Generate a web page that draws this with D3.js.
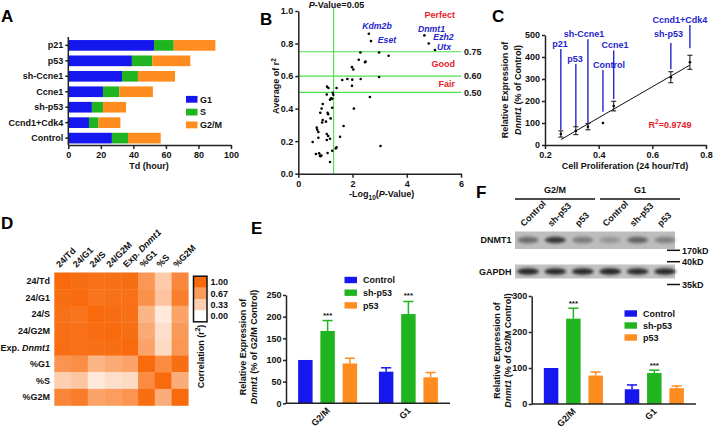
<!DOCTYPE html>
<html><head><meta charset="utf-8">
<script src="https://cdn.jsdelivr.net/npm/d3@7"></script>
<style>
body{margin:0;background:#fff;}
svg{display:block;font-family:"Liberation Sans",Arial,sans-serif;font-weight:bold;}
</style></head><body>
<svg id="chart" width="713" height="434"></svg>
<script>
// ================= DATA =================
// Panel A: doubling time split by phase
const cellLines = ["p21","p53","sh-Ccne1","Ccne1","sh-p53","Ccnd1+Cdk4","Control"];
const phaseNames = ["G1","S","G2/M"];
const phaseG1  = [52.7,39.1,33.0,21.3,14.5,12.7,26.8];
const phaseS   = [12.1,12.5,9.8,10.1,6.8,5.9,9.9];
const phaseG2M = [25.6,23.4,22.8,20.6,14.2,13.4,20.1];
const tickA = [0,20,40,60,80,100];

// Panel B: scatter of -log10(P) vs average r^2
const bNegLogP = [2.60,2.68,4.65,4.81,5.04,2.29,2.98,3.33,2.23,2.48,2.46,1.98,2.03,1.62,1.81,1.99,2.30,2.98,1.98,1.41,
  1.06,1.11,1.27,1.29,1.05,1.21,1.17,1.25,2.64,0.90,1.25,2.05,0.86,0.81,1.08,1.10,1.19,0.90,0.88,1.02,
  1.67,0.68,0.70,0.74,1.05,1.10,0.74,1.17,1.05,1.54,0.53,1.41,1.38,1.25,3.03,0.65,0.77,0.80,0.85,0.82,1.08,1.17];
const bMeanR2 = [0.86,0.815,0.85,0.80,0.76,0.745,0.745,0.725,0.70,0.69,0.685,0.655,0.64,0.576,0.582,0.578,0.582,0.594,0.54,0.527,
  0.535,0.527,0.498,0.485,0.487,0.463,0.455,0.46,0.471,0.428,0.405,0.40,0.40,0.375,0.375,0.365,0.34,0.33,0.315,0.32,
  0.293,0.283,0.27,0.256,0.244,0.232,0.221,0.215,0.207,0.227,0.195,0.162,0.155,0.141,0.17,0.121,0.125,0.11,0.112,0.108,0.127,0.072];
const bThresholds = [0.75,0.60,0.50];
const bPCut = 1.301;
const bFitClasses = ["Perfect","Good","Fair"];
const bGenes = ["Kdm2b","Eset","Dnmt1","Ezh2","Utx"];
const tickBX = [0,2,4,6];
const tickBY = [0,0.2,0.4,0.6,0.8,1.0];

// Panel C
const cLines = ["p21","p53","sh-Ccne1","Control","Ccne1","sh-p53","Ccnd1+Cdk4"];
const cProlif = [0.259,0.315,0.360,0.416,0.456,0.669,0.740];
const cExpr   = [50,65,83,100,177,308,376];
const cErr    = [14,18,14,0,22,25,32];
const cR2 = "0.9749";
const tickCX = [0.2,0.4,0.6,0.8];
const tickCY = [0,100,200,300,400,500];

// Panel D: correlation matrix
const dVars = ["24/Td","24/G1","24/S","24/G2M","Exp. Dnmt1","%G1","%S","%G2M"];
const dMatrix = [
  [1.00,0.97,0.95,0.96,0.97,0.70,0.35,0.80],
  [0.97,1.00,0.93,0.95,0.95,0.74,0.40,0.86],
  [0.95,0.93,1.00,0.98,0.96,0.50,0.15,0.62],
  [0.96,0.95,0.98,1.00,0.97,0.57,0.22,0.68],
  [0.97,0.95,0.96,0.97,1.00,0.62,0.25,0.70],
  [0.72,0.76,0.50,0.57,0.62,1.00,0.78,0.97],
  [0.33,0.38,0.15,0.22,0.25,0.78,1.00,0.55],
  [0.82,0.88,0.62,0.66,0.72,0.97,0.55,1.00]];
const dLegendTicks = [1.00,0.67,0.33,0.00];

// Panels E & F
const efPhases = ["G2/M","G1"];
const treatments = ["Control","sh-p53","p53"];
const eControl=[100,73], eShP53=[167,206], eP53=[92,60];
const eControlErr=[0,9], eShP53Err=[24,29], eP53Err=[12,11];
const eSig = ["***","***"];
const tickEY = [0,50,100,150,200,250];
const fControl=[100,41], fShP53=[237,86], fP53=[79,44];
const fControlErr=[0,12], fShP53Err=[29,8], fP53Err=[10,6];
const fSig = ["***","***"];
const tickFY = [0,100,200,300];
const blotLanes = ["Control","sh-p53","p53","Control","sh-p53","p53"];
const dnmt1Band = [0.55,0.92,0.45,0.28,0.6,0.42];
const gapdhBand = [0.95,0.9,0.9,0.95,0.88,0.9];
const blotMarkers = ["170kD","40kD","35kD"];

// ================= DRAWING =================
const FF = '"Liberation Sans", Arial, sans-serif';
const BLUE="#1616ee", GREEN="#20b420", ORANGE="#ff8c1e", LBLUE="#2525cc", RED="#e8202a", LGREEN="#4be04b";
const svg = d3.select("#chart");
svg.append("rect").attr("width",713).attr("height",434).attr("fill","#fff");

function styleAxis(g){
  g.attr("font-family",FF).attr("font-size",9).attr("font-weight","bold");
  g.select(".domain").attr("stroke","#222").attr("stroke-width",1.5);
  g.selectAll(".tick line").attr("stroke","#222").attr("stroke-width",1.5);
  g.selectAll(".tick text").attr("fill","#111");
}
function letter(t,x,y){
  svg.append("text").attr("x",x).attr("y",y).text(t).attr("font-size",17).attr("font-family",FF).attr("font-weight","bold").attr("fill","#000");
}
function txt(x,y,s,o={}){
  const t=svg.append("text").attr("x",x).attr("y",y).attr("font-size",o.size||9).attr("font-family",FF)
    .attr("font-weight","bold").attr("fill",o.fill||"#111").attr("text-anchor",o.anchor||"start").text(s);
  if(o.italic) t.attr("font-style","italic");
  return t;
}

// ---------- Panel A ----------
letter("A",1,22);
{
  const x = d3.scaleLinear().domain([0,100]).range([68.3,231]);
  const y = d3.scaleBand().domain(cellLines).range([38.5,145]).paddingInner(0.31).paddingOuter(0.1);
  const cols=[BLUE,GREEN,ORANGE];
  const rows = cellLines.map((c,i)=>({c, v:[phaseG1[i],phaseS[i],phaseG2M[i]]}));
  const stack = d3.stack().keys([0,1,2]).value((d,k)=>d.v[k])(rows);
  stack.forEach((layer,k)=>{
    svg.append("g").selectAll("rect").data(layer).join("rect")
      .attr("x",d=>x(d[0])).attr("width",d=>x(d[1])-x(d[0]))
      .attr("y",d=>y(d.data.c)).attr("height",y.bandwidth()).attr("fill",cols[k]);
  });
  const ax=svg.append("g").attr("transform","translate(0,145)").call(d3.axisBottom(x).tickValues(tickA).tickSize(4).tickSizeOuter(0));
  styleAxis(ax);
  const ay=svg.append("g").attr("transform","translate(68.3,0)").call(d3.axisLeft(y).tickSize(3).tickPadding(2).tickSizeOuter(0));
  styleAxis(ay);
  ay.select(".domain").attr("d","M0,37V145");
  txt(149,169,"Td (hour)",{anchor:"middle"});
  phaseNames.forEach((p,i)=>{
    const cy=99.3+i*12.8;
    svg.append("rect").attr("x",186).attr("y",cy-3.4).attr("width",11.5).attr("height",6.8).attr("fill",cols[i]);
    txt(200,cy+3.3,p);
  });
}

// ---------- Panel B ----------
letter("B",260,25);
{
  const x=d3.scaleLinear().domain([0,6]).range([298.3,461]);
  const y=d3.scaleLinear().domain([0,1]).range([173.7,11]);
  bThresholds.forEach(t=>{
    svg.append("line").attr("x1",x(0)).attr("x2",x(6)).attr("y1",y(t)).attr("y2",y(t)).attr("stroke",LGREEN).attr("stroke-width",1.1);
    txt(464,y(t)+3.3,d3.format(".2f")(t));
  });
  svg.append("line").attr("x1",x(bPCut)).attr("x2",x(bPCut)).attr("y1",8).attr("y2",y(0)).attr("stroke",LGREEN).attr("stroke-width",1.1);
  svg.append("g").selectAll("circle").data(bNegLogP).join("circle")
    .attr("cx",d=>x(d)).attr("cy",(d,i)=>y(bMeanR2[i])).attr("r",1.3).attr("fill","#000");
  const ax=svg.append("g").attr("transform","translate(0,173.7)").call(d3.axisBottom(x).tickValues(tickBX).tickFormat(d3.format("d")).tickSize(4).tickSizeOuter(0));
  styleAxis(ax);
  const ay=svg.append("g").attr("transform","translate(298.3,0)").call(d3.axisLeft(y).tickValues(tickBY).tickFormat(d3.format(".1f")).tickSize(3).tickPadding(2).tickSizeOuter(0));
  styleAxis(ay);
  // title
  const t=txt(336.5,7.5,"",{anchor:"middle"});
  t.append("tspan").attr("font-style","italic").text("P");
  t.append("tspan").text("-Value=0.05");
  // fit classes
  const clsY=[18,66.5,87.3];
  bFitClasses.forEach((c,i)=>txt(455,clsY[i],c,{anchor:"end",fill:RED}));
  // gene labels
  const gPos=[[377,29.3],[387,42.5],[431.5,31.7],[443.5,40.2],[444,49.5]];
  bGenes.forEach((g,i)=>txt(gPos[i][0],gPos[i][1],g,{anchor:"middle",fill:LBLUE,italic:true,size:8.7}));
  // axis labels
  const xl=txt(381.7,197,"",{anchor:"middle"});
  xl.append("tspan").text("-Log");
  xl.append("tspan").attr("font-size",6.5).attr("dy",2.5).text("10");
  xl.append("tspan").attr("dy",-2.5).text("(");
  xl.append("tspan").attr("font-style","italic").text("P");
  xl.append("tspan").text("-Value)");
  const yl=svg.append("text").attr("transform","translate(279,86) rotate(-90)").attr("text-anchor","middle")
    .attr("font-size",9).attr("font-family",FF).attr("font-weight","bold").attr("fill","#111");
  yl.append("tspan").text("Average of r");
  yl.append("tspan").attr("font-size",6.5).attr("dy",-3.5).text("2");
}

// ---------- Panel C ----------
letter("C",492,22);
{
  const x=d3.scaleLinear().domain([0.2,0.8]).range([545,706]);
  const y=d3.scaleLinear().domain([0,500]).range([145,35]);
  // regression (least squares on the data)
  const mx=d3.mean(cProlif), my=d3.mean(cExpr);
  const sxy=d3.sum(cProlif,(v,i)=>(v-mx)*(cExpr[i]-my)), sxx=d3.sum(cProlif,v=>(v-mx)*(v-mx));
  const slope=sxy/sxx, icpt=my-slope*mx;
  const x0=d3.min(cProlif), x1=d3.max(cProlif);
  svg.append("line").attr("x1",x(x0)).attr("y1",y(icpt+slope*x0)).attr("x2",x(x1)).attr("y2",y(icpt+slope*x1)).attr("stroke","#111").attr("stroke-width",1);
  // label lines and labels
  const lab = [ // [labelX, baselineY, lineTop, lineBottom]
    [560,46.7,49,130],[575,61.7,64,126.7],[584,36.7,39.3,123.3],[609,67.7,70,111.7],
    [615,48.3,50.5,99],[668.5,36.7,43,69.3],[680,22.7,25,48.3]];
  cLines.forEach((c,i)=>{
    const px=x(cProlif[i]);
    svg.append("line").attr("x1",px).attr("x2",px).attr("y1",lab[i][2]).attr("y2",lab[i][3]).attr("stroke",LBLUE).attr("stroke-width",1.4);
    txt(lab[i][0],lab[i][1],c,{anchor:"middle",fill:LBLUE});
  });
  // error bars and points
  cLines.forEach((c,i)=>{
    const px=x(cProlif[i]);
    if(cErr[i]>0){
      const g=svg.append("g").attr("stroke","#111").attr("stroke-width",1);
      g.append("line").attr("x1",px).attr("x2",px).attr("y1",y(cExpr[i]-cErr[i])).attr("y2",y(cExpr[i]+cErr[i]));
      [cExpr[i]-cErr[i],cExpr[i]+cErr[i]].forEach(v=>g.append("line").attr("x1",px-2.5).attr("x2",px+2.5).attr("y1",y(v)).attr("y2",y(v)));
    }
    svg.append("circle").attr("cx",px).attr("cy",y(cExpr[i])).attr("r",1.3).attr("fill","#000");
  });
  const ax=svg.append("g").attr("transform","translate(0,145)").call(d3.axisBottom(x).tickValues(tickCX).tickFormat(d3.format(".1f")).tickSize(4).tickSizeOuter(0));
  styleAxis(ax);
  const ay=svg.append("g").attr("transform","translate(545,0)").call(d3.axisLeft(y).tickValues(tickCY).tickSize(3).tickPadding(2).tickSizeOuter(0));
  styleAxis(ay);
  const r2=txt(670,127.5,"",{anchor:"middle",fill:RED});
  r2.append("tspan").text("R");
  r2.append("tspan").attr("font-size",6.5).attr("dy",-3.5).text("2");
  r2.append("tspan").attr("dy",3.5).text("="+cR2);
  txt(625,168.5,"Cell Proliferation (24 hour/Td)",{anchor:"middle"});
  const yl=svg.append("text").attr("transform","translate(508,90) rotate(-90)").attr("text-anchor","middle")
    .attr("font-size",9).attr("font-family",FF).attr("font-weight","bold").attr("fill","#111");
  yl.append("tspan").attr("x",0).attr("y",0).text("Relative Expression of");
  const l2=yl.append("tspan").attr("x",0).attr("y",13);
  l2.append("tspan").attr("font-style","italic").text("Dnmt1");
  l2.append("tspan").text(" (% of Control)");
}

// ---------- Panel D ----------
letter("D",1,229);
{
  const color=d3.scaleLinear().domain([0,1]).range(["#ffffff","#f86a0c"]).interpolate(d3.interpolateRgb);
  const x=d3.scaleBand().domain(dVars).range([54.3,188.3]);
  const y=d3.scaleBand().domain(dVars).range([272.5,405.5]);
  const cells=[];
  dMatrix.forEach((row,i)=>row.forEach((v,j)=>cells.push({r:dVars[i],c:dVars[j],v})));
  svg.append("g").selectAll("rect").data(cells).join("rect")
    .attr("x",d=>x(d.c)).attr("y",d=>y(d.r)).attr("width",x.bandwidth()+0.3).attr("height",y.bandwidth()+0.3)
    .attr("fill",d=>color(d.v));
  dVars.forEach(v=>{
    const t=txt(50,y(v)+y.bandwidth()/2+3.3,"",{anchor:"end"});
    if(v.startsWith("Exp.")){t.append("tspan").text("Exp. ");t.append("tspan").attr("font-style","italic").text("Dnmt1");}
    else t.text(v);
    const cx=x(v)+x.bandwidth()/2;
    const ct=svg.append("text").attr("transform",`translate(${cx-3},268) rotate(-45)`).attr("font-size",9)
      .attr("font-family",FF).attr("font-weight","bold").attr("fill","#111");
    if(v.startsWith("Exp.")){ct.append("tspan").text("Exp. ");ct.append("tspan").attr("font-style","italic").text("Dnmt1");}
    else ct.text(v);
  });
  // legend
  const bh=11.4, top=276.2;
  dLegendTicks.forEach((v,i)=>{
    svg.append("rect").attr("x",193.5).attr("y",top+i*bh).attr("width",13.5).attr("height",bh+0.2).attr("fill",color(v));
    txt(210.5,top+i*bh+bh/2+3.2,d3.format(".2f")(v));
  });
  svg.append("rect").attr("x",193.5).attr("y",top).attr("width",13.5).attr("height",bh*4).attr("fill","none").attr("stroke","#111").attr("stroke-width",1.5);
  const cl=svg.append("text").attr("transform","translate(203.5,356.5) rotate(-90)").attr("text-anchor","middle")
    .attr("font-size",9).attr("font-family",FF).attr("font-weight","bold").attr("fill","#111");
  cl.append("tspan").text("Correlation (r");
  cl.append("tspan").attr("font-size",6.5).attr("dy",-3.5).text("2");
  cl.append("tspan").attr("dy",3.5).text(")");
}

// ---------- Bar panels E & F ----------
function barPanel(o){
  const y=d3.scaleLinear().domain([0,o.ymax]).range([o.y0,o.y1]);
  const x0=d3.scaleBand().domain(efPhases).range([o.xl,o.xr]).paddingInner(0.27).paddingOuter(0.15);
  const x1=d3.scaleBand().domain(treatments).range([0,x0.bandwidth()]).paddingInner(0.35);
  const cols=[BLUE,GREEN,ORANGE];
  efPhases.forEach((p,gi)=>{
    treatments.forEach((t,ti)=>{
      const v=o.vals[ti][gi], e=o.errs[ti][gi];
      const bx=x0(p)+x1(t), bw=x1.bandwidth(), cx=bx+bw/2;
      if(e>0){
        svg.append("line").attr("x1",cx).attr("x2",cx).attr("y1",y(v)).attr("y2",y(v+e)).attr("stroke",cols[ti]).attr("stroke-width",1.5);
        svg.append("line").attr("x1",cx-bw*0.35).attr("x2",cx+bw*0.35).attr("y1",y(v+e)).attr("y2",y(v+e)).attr("stroke",cols[ti]).attr("stroke-width",1.5);
      }
      svg.append("rect").attr("x",bx).attr("y",y(v)).attr("width",bw).attr("height",y(0)-y(v)).attr("fill",cols[ti]);
      if(ti===1) txt(cx,y(v+e)-o.sigGap,o.sig[gi],{anchor:"middle",size:8});
    });
    const gc=x0(p)+x0.bandwidth()/2;
    svg.append("text").attr("transform",`translate(${gc+3},${o.y0+8}) rotate(-45)`).attr("text-anchor","end")
      .attr("font-size",9).attr("font-family",FF).attr("font-weight","bold").attr("fill","#111").text(p);
  });
  const ay=svg.append("g").attr("transform",`translate(${o.xl},0)`).call(d3.axisLeft(y).tickValues(o.ticks).tickSize(3).tickPadding(1.5).tickSizeOuter(0));
  styleAxis(ay);
  svg.append("line").attr("x1",o.xl).attr("x2",o.xr).attr("y1",o.y0).attr("y2",o.y0).attr("stroke","#222").attr("stroke-width",1.5);
  treatments.forEach((t,i)=>{
    const cy=o.legY+i*o.legStep;
    svg.append("rect").attr("x",o.legX).attr("y",cy-3.2).attr("width",12.5).attr("height",6.4).attr("fill",cols[i]);
    txt(o.legX+18.5,cy+3.3,t);
  });
  const yl=svg.append("text").attr("transform",`translate(${o.labX},${o.labY}) rotate(-90)`).attr("text-anchor","middle")
    .attr("font-size",9).attr("font-family",FF).attr("font-weight","bold").attr("fill","#111");
  yl.append("tspan").attr("x",0).attr("y",0).text("Relative Expression of");
  const l2=yl.append("tspan").attr("x",0).attr("y",10.5);
  l2.append("tspan").attr("font-style","italic").text("Dnmt1");
  l2.append("tspan").text(" (% of G2/M Control)");
}

letter("E",251,234);
barPanel({ymax:250,y0:403.3,y1:295,xl:286,xr:450,ticks:tickEY,
  vals:[eControl,eShP53,eP53],errs:[eControlErr,eShP53Err,eP53Err],sig:eSig,sigGap:3,
  legX:344.5,legY:280,legStep:12.7,labX:246,labY:347});

letter("F",476,198);
barPanel({ymax:300,y0:404,y1:296,xl:531.7,xr:696,ticks:tickFY,
  vals:[fControl,fShP53,fP53],errs:[fControlErr,fShP53Err,fP53Err],sig:fSig,sigGap:2,
  legX:624.5,legY:313.5,legStep:12,labX:500,labY:350.5});

// ---------- Blot (panel F top) ----------
{
  const defs=svg.append("defs");
  defs.append("filter").attr("id","blur").attr("x","-50%").attr("y","-100%").attr("width","200%").attr("height","300%")
    .append("feGaussianBlur").attr("stdDeviation",1.6);
  const lane=d3.scalePoint().domain(d3.range(blotLanes.length)).range([528,665]);
  // group headers
  [["G2/M",515,595],["G1",600,680]].forEach(([t,a,b])=>{
    svg.append("line").attr("x1",a).attr("x2",b).attr("y1",199).attr("y2",199).attr("stroke","#111").attr("stroke-width",1.5);
    txt((a+b)/2,193.3,t,{anchor:"middle"});
  });
  blotLanes.forEach((l,i)=>{
    svg.append("text").attr("transform",`translate(${lane(i)-4},227) rotate(-45)`).attr("font-size",9)
      .attr("font-family",FF).attr("font-weight","bold").attr("fill","#111").text(l);
  });
  // DNMT1 blot
  svg.append("rect").attr("x",515).attr("y",231.5).attr("width",160).attr("height",17.5).attr("fill","#bdbdbd");
  svg.append("g").attr("filter","url(#blur)").selectAll("ellipse").data(dnmt1Band).join("ellipse")
    .attr("cx",(d,i)=>lane(i)).attr("cy",240).attr("rx",10.5).attr("ry",3.2).attr("fill","#2a2a2a").attr("opacity",d=>d);
  // GAPDH blot
  svg.append("rect").attr("x",515).attr("y",264.5).attr("width",160).attr("height",14).attr("fill","#c2c2c2");
  svg.append("g").attr("filter","url(#blur)").selectAll("ellipse").data(gapdhBand).join("ellipse")
    .attr("cx",(d,i)=>lane(i)).attr("cy",271.5).attr("rx",11).attr("ry",3.3).attr("fill","#1a1a1a").attr("opacity",d=>d);
  txt(511.5,243,"DNMT1",{anchor:"end"});
  txt(511.5,275,"GAPDH",{anchor:"end"});
  const my=[250.3,261.7,284.5];
  blotMarkers.forEach((m,i)=>{
    svg.append("line").attr("x1",667).attr("x2",680).attr("y1",my[i]).attr("y2",my[i]).attr("stroke","#111").attr("stroke-width",1.5);
    txt(682,my[i]+3.3,m);
  });
}
</script></body></html>
